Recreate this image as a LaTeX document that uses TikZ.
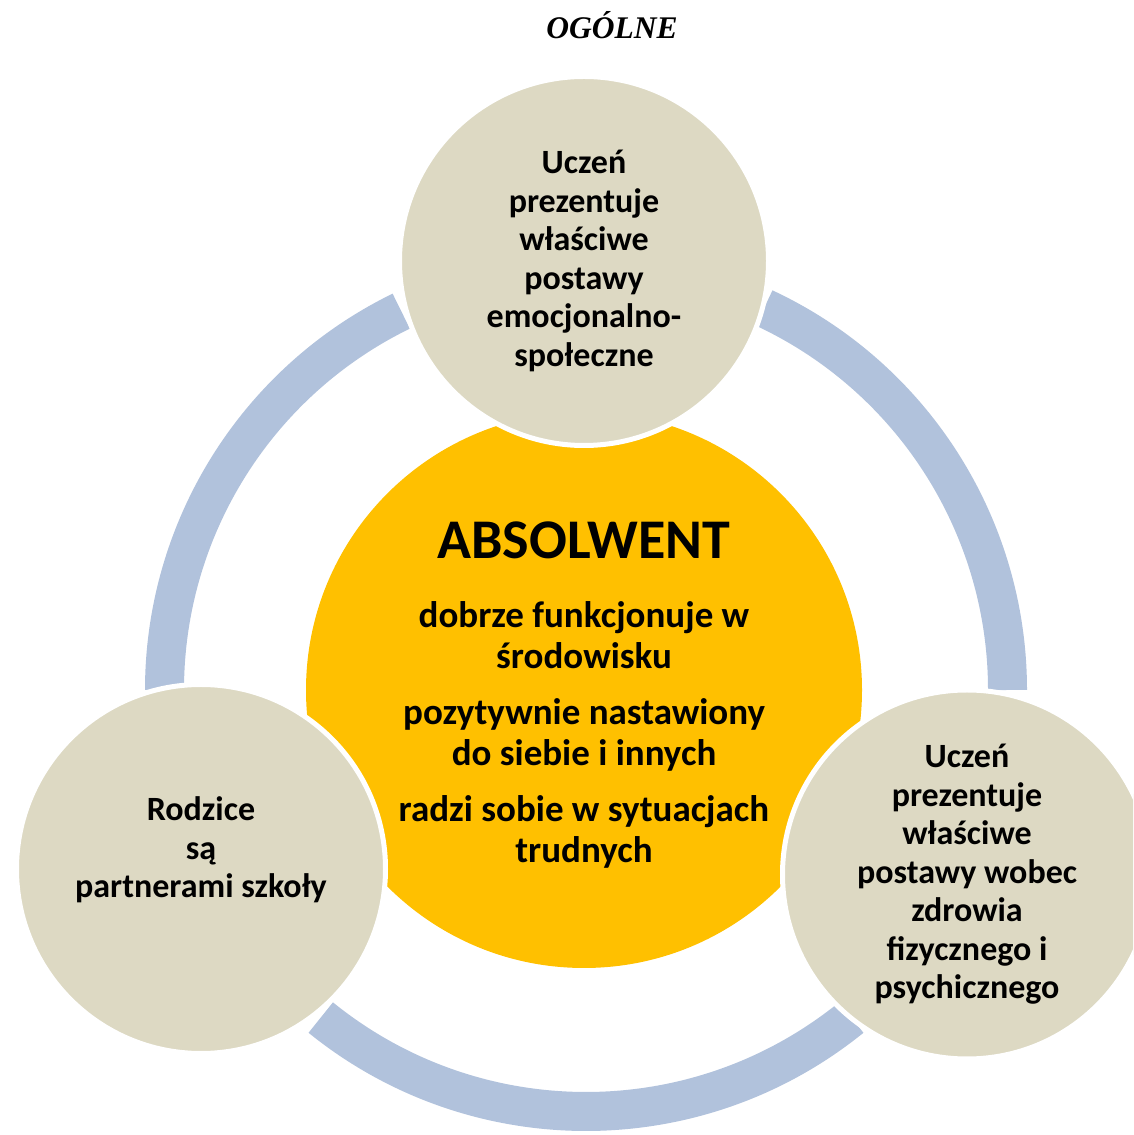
\documentclass[tikz,border=0pt]{standalone}
\usepackage{fontspec}
\setmainfont{Carlito}
\newfontfamily\titlefont{Liberation Serif}
\usetikzlibrary{positioning}

\definecolor{ringblue}{HTML}{B1C2DC}
\definecolor{petaltan}{HTML}{DDD9C3}
\definecolor{hubgold}{HTML}{FFC000}

\begin{document}
\begin{tikzpicture}[
    x=1pt, y=1pt,
    every node/.style={align=center, font=\bfseries},
    ringarc/.style={draw=ringblue, line width=39pt},
    petal/.style={circle, fill=petaltan, draw=white, line width=5pt, minimum size=369pt,
        inner sep=2pt, font=\fontsize{34}{38.5}\selectfont\bfseries},
    hubtext/.style={font=\fontsize{37}{41}\selectfont\bfseries}
]
    \useasboundingbox (0,0) rectangle (1133,1135);
    \clip (0,0) rectangle (1133,1135);

    \def\ringR{421.5}
    \coordinate (ring) at (586,445);

    \foreach \from/\to in {116/180, 231/309, 0/65}{
        \draw[ringarc] ([shift={(\from:\ringR)}]ring) arc[start angle=\from, end angle=\to, radius=\ringR];
    }

    \node[font=\titlefont\fontsize{31.5}{36}\selectfont\bfseries\itshape] (title) at (612,1110) {OGÓLNE};

    \node[circle, fill=hubgold, minimum size=556pt] (hub) at (584,445) {};
    \node[font=\fontsize{56}{62}\selectfont\bfseries] (absolwent) at (584,595) {ABSOLWENT};

    \foreach \yp/\txt/\nm in {
        499.5/{dobrze funkcjonuje w\\środowisku}/srodowisko,
        400.5/{pozytywnie nastawiony\\do siebie i innych}/nastawienie,
        303.5/{radzi sobie w sytuacjach\\trudnych}/trudnosci
    }{
        \node[hubtext] (\nm) at (584,\yp) {\txt};
    }

    \node[petal] (emocje) at (584,874) {Uczeń\\prezentuje\\właściwe\\postawy\\emocjonalno-\\społeczne};
    \node[petal] (rodzice) at (201,266) {Rodzice\\są\\partnerami szkoły\\[5pt]\mbox{}};
    \node[petal] (zdrowie) at (967,260.5) {Uczeń\\prezentuje\\właściwe\\postawy wobec\\zdrowia\\fizycznego i\\psychicznego};
\end{tikzpicture}
\end{document}
